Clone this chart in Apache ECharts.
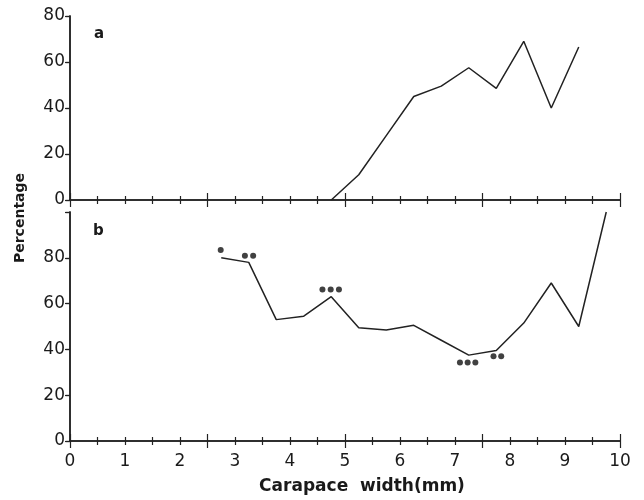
<!DOCTYPE html>
<html>
<head>
<meta charset="utf-8">
<script src="https://cdn.jsdelivr.net/npm/echarts@6/dist/echarts.min.js"></script>
<style>
  html, body { margin: 0; padding: 0; background: #fff; }
  #chart { width: 644px; height: 500px; }
</style>
</head>
<body>
<div id="chart"></div>
<script>
// panel a
const widthA = [4.75, 5.25, 5.75, 6.25, 6.75, 7.25, 7.75, 8.25, 8.75, 9.25]
const pctA = [0, 11, 28, 45, 49.5, 57.5, 48.5, 69, 40, 66.5]
// panel b
const widthB = [2.75, 3.25, 3.75, 4.25, 4.75, 5.25, 5.75, 6.25, 6.75, 7.25, 7.75, 8.25, 8.75, 9.25, 9.75]
const pctB = [80, 78, 53, 54.5, 63, 49.5, 48.5, 50.5, 44, 37.5, 39.5, 51.5, 69, 50, 100]
// significance dots in panel b
const dotX = [2.74, 3.18, 3.33, 4.59, 4.74, 4.89, 7.09, 7.23, 7.37, 7.70, 7.84]
const dotY = [83.4, 80.9, 80.9, 66.2, 66.2, 66.2, 34.3, 34.3, 34.3, 37.0, 37.0]
const xTicks = [0, 1, 2, 3, 4, 5, 6, 7, 8, 9, 10]

const ink = '#222'
const labelFont = { color: '#1a1a1a', fontSize: 17, fontFamily: 'DejaVu Sans' }

let chartDom = echarts.init(document.getElementById('chart'))

function tickAxis(grid, pos) {
  return {
    type: 'value', gridIndex: grid, position: pos, min: 0, max: 10, interval: 2.5,
    axisLine: { show: true, lineStyle: { color: ink, width: 1.5 } },
    axisTick: { show: true, inside: true, length: 7, lineStyle: { color: ink, width: 1.2 } },
    minorTick: { show: true, splitNumber: 5, length: 4, lineStyle: { color: ink, width: 1.2 } },
    axisLabel: { show: false },
    splitLine: { show: false },
  }
}

function yAxes(grid, max) {
  return [
    {
      type: 'value', gridIndex: grid, position: 'left', min: 0, max: max, interval: 20,
      axisLine: { show: true, lineStyle: { color: ink, width: 1.5 } },
      axisTick: { show: true, inside: false, length: 4, lineStyle: { color: ink, width: 1.2 } },
      axisLabel: {
        ...labelFont, margin: 5,
        formatter: (v) => (v > 80 ? '' : String(v)),
      },
      splitLine: { show: false },
    },
    {
      type: 'value', gridIndex: grid, position: 'right', min: 0, max: max, interval: 20,
      axisLine: { show: true, lineStyle: { color: ink, width: 1.5 } },
      axisTick: { show: true, inside: true, length: 5, lineStyle: { color: ink, width: 1.2 } },
      axisLabel: { show: false },
      splitLine: { show: false },
    },
  ]
}

const labelAxis = {
  type: 'value', gridIndex: 1, position: 'bottom', min: 0, max: 10, interval: 1,
  axisLine: { show: false },
  axisTick: { show: false },
  axisLabel: {
    ...labelFont, margin: 12,
    formatter: (v) => (xTicks.includes(v) ? String(v) : ''),
  },
  splitLine: { show: false },
}

const option = {
  animation: false,
  backgroundColor: '#fff',
  grid: [
    { left: 70, right: 24, top: 16, height: 184 },
    { left: 70, right: 24, top: 212, height: 229 },
  ],
  xAxis: [
    tickAxis(0, 'bottom'),
    tickAxis(0, 'top'),
    tickAxis(1, 'bottom'),
    tickAxis(1, 'top'),
    labelAxis,
  ],
  yAxis: [...yAxes(0, 80), ...yAxes(1, 100)],
  series: [
    {
      type: 'line', xAxisIndex: 0, yAxisIndex: 0,
      data: widthA.map((w, i) => [w, pctA[i]]),
      showSymbol: false, lineStyle: { color: ink, width: 1.5 },
    },
    {
      type: 'line', xAxisIndex: 2, yAxisIndex: 2,
      data: widthB.map((w, i) => [w, pctB[i]]),
      showSymbol: false, lineStyle: { color: ink, width: 1.5 },
    },
    {
      type: 'scatter', xAxisIndex: 2, yAxisIndex: 2,
      data: dotX.map((x, i) => [x, dotY[i]]),
      symbol: 'circle', symbolSize: 6, itemStyle: { color: '#111' },
    },
  ],
  graphic: [
    { type: 'text', left: 94, top: 27, style: { text: 'a', fontSize: 15, fontWeight: 'bold', fontFamily: 'DejaVu Sans', fill: '#1a1a1a' } },
    { type: 'text', left: 93, top: 224, style: { text: 'b', fontSize: 15, fontWeight: 'bold', fontFamily: 'DejaVu Sans', fill: '#1a1a1a' } },
    {
      type: 'text', x: 20, y: 218, rotation: Math.PI / 2,
      style: { text: 'Percentage', fontSize: 14, fontWeight: 'bold', fontFamily: 'DejaVu Sans', fill: '#1a1a1a', align: 'center', verticalAlign: 'middle' },
    },
    {
      type: 'text', x: 362, y: 487,
      style: { text: 'Carapace  width(mm)', fontSize: 17, fontWeight: 'bold', fontFamily: 'DejaVu Sans', fill: '#1a1a1a', align: 'center', verticalAlign: 'middle' },
    },
  ],
}

chartDom.setOption(option)
</script>
</body>
</html>
